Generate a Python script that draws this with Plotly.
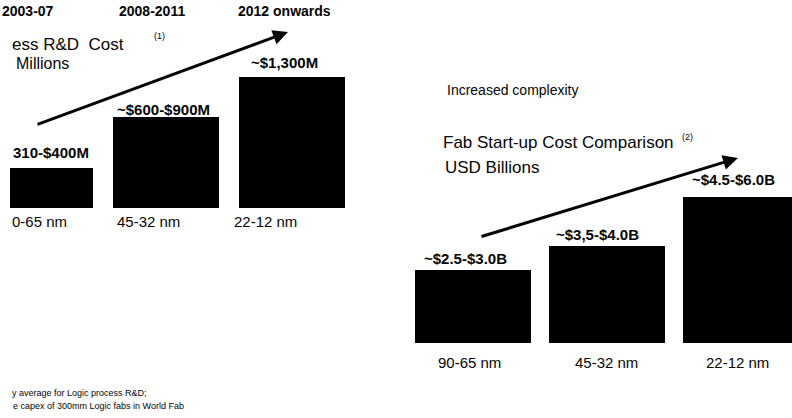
import plotly.graph_objects as go

W, H = 792, 418

# ---- data ----
categories = ["90-65 nm", "45-32 nm", "22-12 nm"]
left_tick_text = ["0-65 nm", "45-32 nm", "22-12 nm"]          # as visible (scan cropped)
rd_cost_musd = [400, 900, 1300]                                 # bar heights, USD millions
rd_cost_labels = ["310-$400M", "~$600-$900M", "~$1,300M"]
fab_cost_busd = [3.0, 4.0, 6.0]                                 # bar heights, USD billions
fab_cost_labels = ["~$2.5-$3.0B", "~$3,5-$4.0B", "~$4.5-$6.0B"]
periods = ["2003-07", "2008-2011", "2012 onwards"]

FONT = "Liberation Sans, Arial, sans-serif"
INK = "#050505"


def px(x):
    return x / W


def py(y):
    return 1 - y / H


fig = go.Figure()
fig.add_trace(go.Bar(x=categories, y=rd_cost_musd, width=0.84,
                     marker=dict(color="#000000", line=dict(width=0)),
                     xaxis="x", yaxis="y", showlegend=False, hoverinfo="skip"))
fig.add_trace(go.Bar(x=categories, y=fab_cost_busd, width=0.86,
                     marker=dict(color="#000000", line=dict(width=0)),
                     xaxis="x2", yaxis="y2", showlegend=False, hoverinfo="skip"))

ann = []


def txt(text, x, y, size, anchor="left", bold=False):
    ann.append(dict(text=f"<b>{text}</b>" if bold else text, x=px(x), y=py(y),
                    xref="paper", yref="paper", xanchor=anchor, yanchor="middle",
                    showarrow=False, font=dict(family=FONT, size=size, color=INK)))


# header periods
for t, x in zip(periods, [0, 117, 236]):
    txt(t, x, 11, 14, bold=True)

# left titles
txt("ess R&amp;D&nbsp; Cost", 10, 45, 17)
txt("(1)", 152, 36, 9)
txt("Millions", 14, 63, 16)

# right titles
txt("Increased complexity", 445, 90, 14)
txt("Fab Start-up Cost Comparison", 441, 143, 17)
txt("(2)", 680, 137, 9)
txt("USD Billions", 443, 167, 17)

# footnotes
txt("y average for Logic process R&amp;D;", 10, 393, 9)
txt("e capex of 300mm Logic fabs in World Fab", 11, 406, 9)

# left value labels (data coords)
left_val_style = [dict(xanchor="left", xshift=-29, yshift=15),
                  dict(xanchor="center", xshift=-3, yshift=8),
                  dict(xanchor="center", xshift=-8, yshift=14)]
for c, v, lab, st in zip(categories, rd_cost_musd, rd_cost_labels, left_val_style):
    ann.append(dict(text=f"<b>{lab}</b>", x=c, y=v, xref="x", yref="y", yanchor="middle",
                    showarrow=False, font=dict(family=FONT, size=15, color=INK), **st))

# left category labels
left_cat_shift = [-30, -51, -60]
for c, t, s in zip(categories, left_tick_text, left_cat_shift):
    ann.append(dict(text=t, x=c, y=0, xref="x", yref="y", xanchor="left", yanchor="middle",
                    xshift=s, yshift=-13, showarrow=False,
                    font=dict(family=FONT, size=15, color=INK)))

# right value labels
right_val_style = [dict(xshift=-8, yshift=12), dict(xshift=-9, yshift=11), dict(xshift=-7, yshift=18)]
for c, v, lab, st in zip(categories, fab_cost_busd, fab_cost_labels, right_val_style):
    ann.append(dict(text=f"<b>{lab}</b>", x=c, y=v, xref="x2", yref="y2", xanchor="center",
                    yanchor="middle", showarrow=False,
                    font=dict(family=FONT, size=15, color=INK), **st))

# right category labels
right_cat_shift = [-4, 0, -3]
for c, s in zip(categories, right_cat_shift):
    ann.append(dict(text=c, x=c, y=0, xref="x2", yref="y2", xanchor="center", yanchor="middle",
                    xshift=s, yshift=-19, showarrow=False,
                    font=dict(family=FONT, size=15, color=INK)))

# trend arrows (tail offsets in pixels relative to head)
for (tx, ty), (hx, hy) in [((36, 125), (288, 32)), ((480, 237), (738, 158))]:
    ann.append(dict(x=px(hx), y=py(hy), ax=tx - hx, ay=ty - hy, xref="paper", yref="paper",
                    axref="pixel", ayref="pixel", showarrow=True, arrowhead=2,
                    arrowsize=1, arrowwidth=3, arrowcolor=INK, text=""))

hidden = dict(visible=False, showgrid=False, zeroline=False, fixedrange=True)
fig.update_layout(
    width=W, height=H, margin=dict(l=0, r=0, t=0, b=0),
    paper_bgcolor="white", plot_bgcolor="rgba(0,0,0,0)",
    xaxis=dict(domain=[px(10), px(400)], range=[-0.238, 2.857], **hidden),
    yaxis=dict(domain=[py(208), 1], range=[0, 2059], **hidden),
    xaxis2=dict(domain=[px(400), 1], range=[-0.545, 2.381], anchor="y2", **hidden),
    yaxis2=dict(domain=[py(343), 1], range=[0, 14.12], anchor="x2", **hidden),
    annotations=ann, bargap=0, showlegend=False,
)

fig.write_html("out.html")
